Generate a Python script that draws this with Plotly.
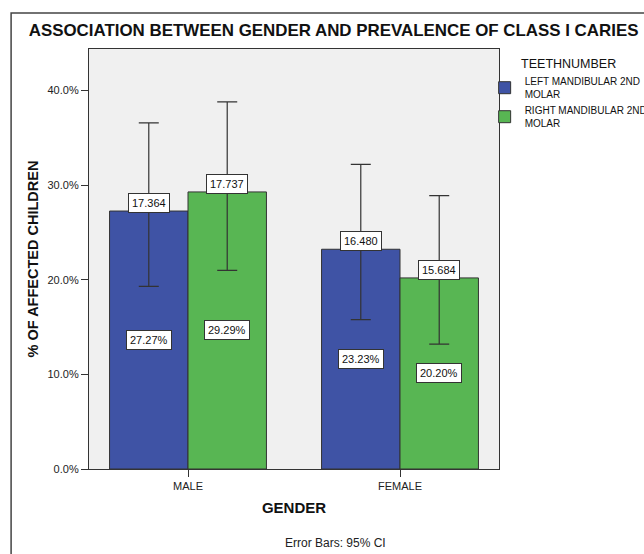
import plotly.graph_objects as go

# ---------------- data ----------------
genders = ["MALE", "FEMALE"]
series_names = ["LEFT MANDIBULAR 2ND<br>MOLAR", "RIGHT MANDIBULAR 2ND<br>MOLAR"]
left_pct = [27.27, 23.23]
right_pct = [29.29, 20.20]
left_ci_low = [19.3, 15.8]
left_ci_high = [36.6, 32.2]
right_ci_low = [21.0, 13.2]
right_ci_high = [38.8, 28.9]
left_labels = ["17.364", "16.480"]
right_labels = ["17.737", "15.684"]
y_ticks = [0, 10, 20, 30, 40]

# ---------------- style ----------------
FONT = "Arial, Liberation Sans, Helvetica, sans-serif"
BLUE = "#3F53A5"
GREEN = "#58B653"
DARK = "#333333"
BARGAP = 0.26
bar_w = (1 - BARGAP) / 2

fig = go.Figure()

def add_series(name, vals, lo, hi, color):
    fig.add_trace(go.Bar(
        name=name, x=genders, y=vals,
        marker=dict(color=color, line=dict(color=DARK, width=1)),
        error_y=dict(type="data", symmetric=False,
                     array=[h - v for h, v in zip(hi, vals)],
                     arrayminus=[v - l for v, l in zip(vals, lo)],
                     color=DARK, thickness=1.2, width=10),
        hoverinfo="x+y",
    ))

add_series(series_names[0], left_pct, left_ci_low, left_ci_high, BLUE)
add_series(series_names[1], right_pct, right_ci_low, right_ci_high, GREEN)

annotations = []
for offset, vals, labels in ((-bar_w / 2, left_pct, left_labels),
                             (bar_w / 2, right_pct, right_labels)):
    for i, (v, lab) in enumerate(zip(vals, labels)):
        box = dict(xref="x", yref="y", showarrow=False,
                   font=dict(family=FONT, size=11, color="#111"),
                   bgcolor="white", bordercolor=DARK, borderwidth=1, borderpad=3)
        annotations.append(dict(box, x=i + offset, y=v, text=lab,
                                yanchor="bottom", yshift=-2))
        annotations.append(dict(box, x=i + offset, y=v / 2, text=f"{v:.2f}%",
                                yanchor="middle"))

annotations.append(dict(xref="paper", yref="paper", x=0.6, y=-0.176,
                        text="Error Bars: 95% CI", showarrow=False,
                        font=dict(family=FONT, size=12, color="#222"),
                        xanchor="center", yanchor="middle"))

fig.update_layout(
    width=644, height=554,
    margin=dict(l=89, r=145, t=49, b=85, autoexpand=False),
    paper_bgcolor="white", plot_bgcolor="#F0F0F0",
    font=dict(family=FONT, color="#222"),
    barmode="group", bargap=BARGAP, bargroupgap=0,
    title=dict(text="<b>ASSOCIATION BETWEEN GENDER AND PREVALENCE OF CLASS I CARIES</b>",
               xref="container", yref="container", x=0.518, y=1 - 30 / 554,
               xanchor="center", yanchor="middle",
               font=dict(family=FONT, size=16.9, color="#111")),
    xaxis=dict(range=[-0.467, 1.467], showline=True, mirror=True,
               linecolor=DARK, linewidth=1.2, ticks="outside", ticklen=7,
               tickcolor=DARK, tickfont=dict(size=11, color="#222"),
               showgrid=False, zeroline=False,
               title=dict(text="<b>GENDER</b>", standoff=11,
                          font=dict(family=FONT, size=15, color="#111"))),
    yaxis=dict(range=[0, 44.4], tickvals=y_ticks,
               ticktext=[f"{t:.1f}%" for t in y_ticks],
               showline=True, mirror=True, linecolor=DARK, linewidth=1.2,
               ticks="outside", ticklen=7, tickcolor=DARK,
               tickfont=dict(size=11, color="#222"),
               showgrid=False, zeroline=False,
               title=dict(text="<b>% OF AFFECTED CHILDREN</b>", standoff=5,
                          font=dict(family=FONT, size=14.5, color="#111"))),
    legend=dict(x=0.965, xanchor="left", y=0.993, yanchor="top",
                bgcolor="rgba(0,0,0,0)", borderwidth=0,
                font=dict(family=FONT, size=10, color="#111"),
                itemwidth=30, tracegroupgap=2,
                title=dict(text="TEETHNUMBER", side="top center",
                           font=dict(family=FONT, size=12.5, color="#111"))),
    annotations=annotations,
    shapes=[dict(type="rect", xref="paper", yref="paper",
                 x0=-0.19, y0=-0.3, x1=1.5, y1=1.0857,
                 line=dict(color="#444", width=1.5), fillcolor="rgba(0,0,0,0)")],
)

fig.write_html("out.html", config={"displayModeBar": False},
               post_script="document.body.style.margin='0';"
                           "document.body.style.overflow='hidden';")
